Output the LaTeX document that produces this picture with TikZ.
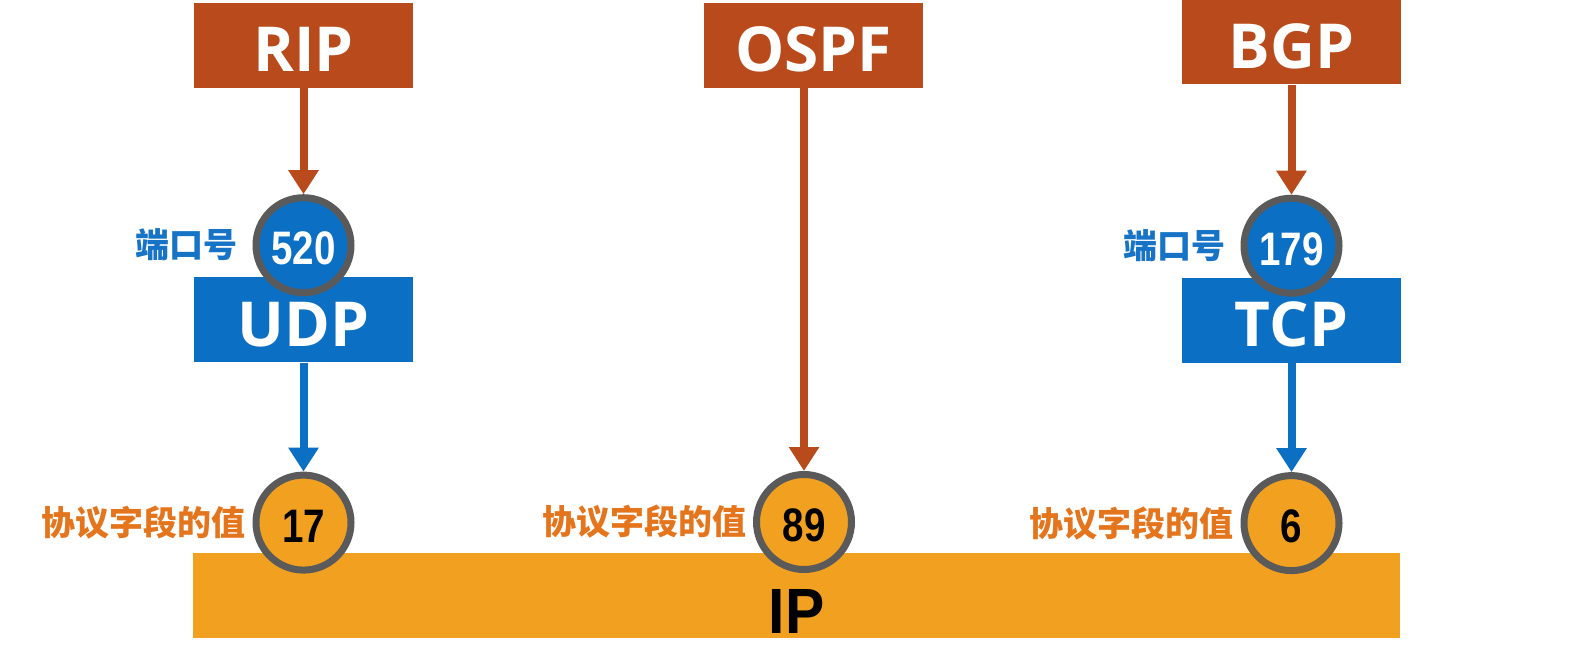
\documentclass[tikz,border=0pt]{standalone}
\usepackage{fontspec}
\usepackage{xcolor}
\usepackage{tikz}
\usetikzlibrary{arrows.meta, positioning}

\setmainfont{Open Sans}
\newfontfamily\cjk{Noto Sans CJK SC}
\newfontfamily\numfont{Liberation Sans}[FakeStretch=0.82]
\newfontfamily\ipfont{Liberation Sans}[FakeStretch=0.92]

\definecolor{rust}{HTML}{B94A1C}
\definecolor{tblue}{HTML}{0B6FC4}
\definecolor{iporange}{HTML}{F2A01F}
\definecolor{ringgray}{HTML}{5A5A5A}
\definecolor{lblue}{HTML}{1673C6}
\definecolor{lorange}{HTML}{E5751C}

\begin{document}
\begin{tikzpicture}[
    x=1pt, y=-1pt,
    proto/.style={rectangle, fill=rust, text=white, minimum width=219pt, minimum height=85pt, inner sep=0pt, text height=53pt, text depth=0pt, font=\bfseries\fontsize{62}{62}\selectfont},
    trans/.style={proto, fill=tblue},
    port/.style={circle, draw=ringgray, line width=7pt, fill=tblue, text=white, minimum size=95pt, inner sep=0pt, text height=39pt, text depth=0pt, font=\numfont\bfseries\fontsize{47}{47}\selectfont},
    pfield/.style={port, fill=iporange, text=black},
    portlbl/.style={text=lblue, inner sep=0pt, font=\cjk\bfseries\fontsize{34}{34}\selectfont},
    fieldlbl/.style={portlbl, text=lorange},
    ipbar/.style={rectangle, fill=iporange, minimum width=1207pt, minimum height=85pt, inner sep=0pt},
    iptext/.style={inner sep=0pt, text=black, font=\ipfont\bfseries\fontsize{64}{64}\selectfont},
    rustline/.style={draw=rust, line width=8pt, -{Triangle[width=29pt, length=24pt]}},
    blueline/.style={rustline, draw=tblue}
]
    \useasboundingbox (0,0) rectangle (1585,660);

    % Nodes
    \node [proto] (rip) at (303.5,45.5) {RIP};
    \node [proto] (ospf) at (813.5,45.5) {OSPF};
    \node [proto] (bgp) at (1291.5,42) {BGP};
    \node [trans, below=189pt of rip] (udp) {UDP};
    \node [trans, below=193pt of bgp] (tcp) {TCP};
    \node [ipbar] (ip) at (796.5,595.5) {};
    \node [iptext, above=5pt of ip.south] (iplabel) {IP};
    \node [port, below=106pt of rip] (p520) {520};
    \node [port, below=110pt of bgp] (p179) {179};
    \node [pfield, below=109pt of udp] (f17) {17};
    \node [pfield] (f89) at (804,522) {89};
    \node [pfield, below=109pt of tcp] (f6) {6};
    \node [portlbl, left=15pt of p520] (udpport) {端口号};
    \node [portlbl, left=15pt of p179] (tcpport) {端口号};
    \node [fieldlbl, left=7pt of f17] (udpfield) {协议字段的值};
    \node [fieldlbl, left=6pt of f89] (ospffield) {协议字段的值};
    \node [fieldlbl, left=7pt of f6] (tcpfield) {协议字段的值};

    % Paths
    \path [rustline] (rip) -- (p520);
    \path [rustline] (bgp) -- (p179);
    \path [rustline] (ospf.south -| f89.north) -- (f89.north);
    \path [blueline] (udp) -- (f17);
    \path [blueline] (tcp) -- (f6);
\end{tikzpicture}
\end{document}
